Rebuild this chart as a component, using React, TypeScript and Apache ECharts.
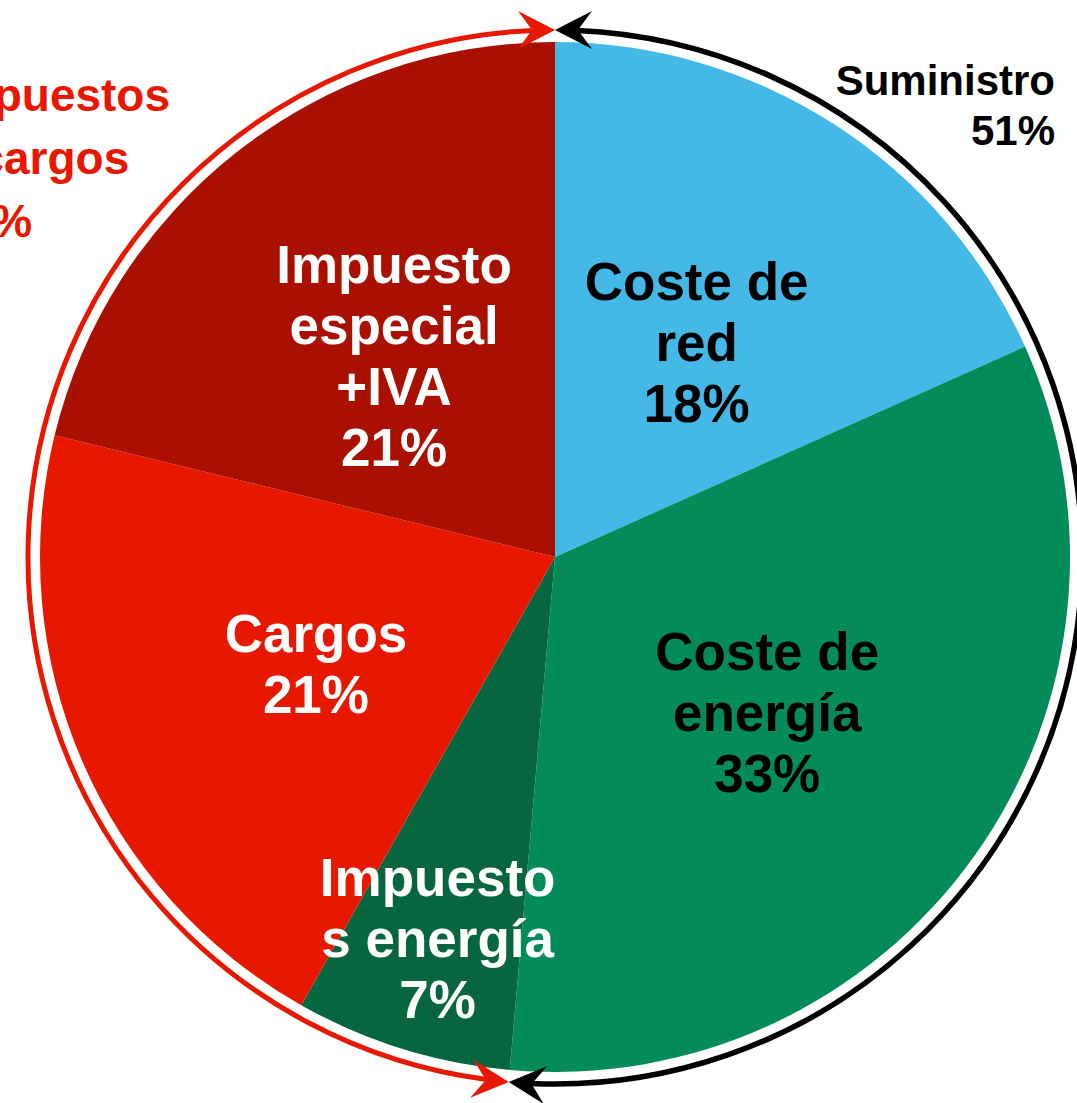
import React, { useEffect, useRef } from "react";
import * as echarts from "echarts";

const sliceNames = ["Coste de\nred", "Coste de\nenergía", "Impuesto\ns energía", "Cargos", "Impuesto\nespecial\n+IVA"];
const sliceValues = [18.3, 33.1, 6.8, 20.6, 21.2];
const sliceColors = ["#44b8e6", "#038b5a", "#07663f", "#e81700", "#a91000"];
const sliceLabelColors = ["#000000", "#000000", "#ffffff", "#ffffff", "#ffffff"];
const groupNames = ["Suministro", "Impuestos\ny cargos"];
const groupMembers = [[0, 1], [2, 3, 4]];
const groupColors = ["#000000", "#e81700"];

const FONT = "'Liberation Sans', Arial, sans-serif";

export default function App() {
  const ref = useRef<HTMLDivElement>(null);
  useEffect(() => {
    if (!ref.current) return;
    const chart = echarts.init(ref.current, null, { renderer: "svg" });
    const CX = 555, CY = 557, R = 515, RING = 527;
    const total = sliceValues.reduce((a, b) => a + b, 0);
    const groupPct = groupMembers.map((m) => Math.round((m.reduce((a, i) => a + sliceValues[i], 0) / total) * 100));
    const splitFrac = groupMembers[0].reduce((a, i) => a + sliceValues[i], 0) / total;
    const top = -Math.PI / 2;
    const split = top + 2 * Math.PI * splitFrac;
    const gapAng = 22 / RING;

    const arrow = (theta: number, dir: number, color: string) => {
      const L = 37, W = 19;
      const px = CX + RING * Math.cos(theta), py = CY + RING * Math.sin(theta);
      const tx = -Math.sin(theta) * dir, ty = Math.cos(theta) * dir;
      const nx = Math.cos(theta), ny = Math.sin(theta);
      return {
        type: "polygon",
        shape: {
          points: [
            [px, py],
            [px - L * tx + W * nx, py - L * ty + W * ny],
            [px - 0.62 * L * tx, py - 0.62 * L * ty],
            [px - L * tx - W * nx, py - L * ty - W * ny],
          ],
        },
        style: { fill: color },
        z: 10,
      };
    };

    chart.setOption({
      animation: false,
      backgroundColor: "#ffffff",
      series: [
        {
          type: "pie",
          center: [CX, CY],
          radius: [0, R],
          startAngle: 90,
          clockwise: true,
          avoidLabelOverlap: false,
          itemStyle: { borderWidth: 0 },
          label: {
            show: true,
            position: "inside",
            fontFamily: FONT,
            fontSize: 53,
            fontWeight: "bold",
            lineHeight: 61,
            align: "center",
            formatter: (p: any) => p.name + "\n" + Math.round(p.value) + "%",
          },
          labelLine: { show: false },
          labelLayout: (p: any) => (p.dataIndex === 2 ? { dx: -40, dy: 133 } : { dy: 4 }),
          emphasis: { disabled: true },
          data: sliceNames.map((n, i) => ({
            name: n,
            value: sliceValues[i],
            itemStyle: { color: sliceColors[i] },
            label: { color: sliceLabelColors[i] },
          })),
        },
      ],
      graphic: [
        {
          type: "arc",
          shape: { cx: CX, cy: CY, r: RING, startAngle: top + gapAng, endAngle: split - gapAng, clockwise: true },
          style: { stroke: groupColors[0], lineWidth: 5.5, fill: "none" },
        },
        {
          type: "arc",
          shape: { cx: CX, cy: CY, r: RING, startAngle: split + gapAng, endAngle: top + 2 * Math.PI - gapAng, clockwise: true },
          style: { stroke: groupColors[1], lineWidth: 5, fill: "none" },
        },
        arrow(top, 1, groupColors[1]),
        arrow(top, -1, groupColors[0]),
        arrow(split, -1, groupColors[1]),
        arrow(split, 1, groupColors[0]),
        {
          type: "text",
          x: 1055,
          y: 55,
          style: {
            text: groupNames[0] + "\n" + groupPct[0] + "%",
            fill: groupColors[0],
            font: "bold 42px " + FONT,
            lineHeight: 50,
            align: "right",
            verticalAlign: "top",
          },
        },
        {
          type: "text",
          x: -60,
          y: 63,
          style: {
            text: groupNames[1] + "\n" + groupPct[1] + "%",
            fill: groupColors[1],
            font: "bold 46px " + FONT,
            lineHeight: 63,
            align: "left",
            verticalAlign: "top",
          },
        },
      ],
    });
    return () => chart.dispose();
  }, []);
  return <div ref={ref} style={{ position: "fixed", left: 0, top: 0, width: 1077, height: 1103 }} />;
}
